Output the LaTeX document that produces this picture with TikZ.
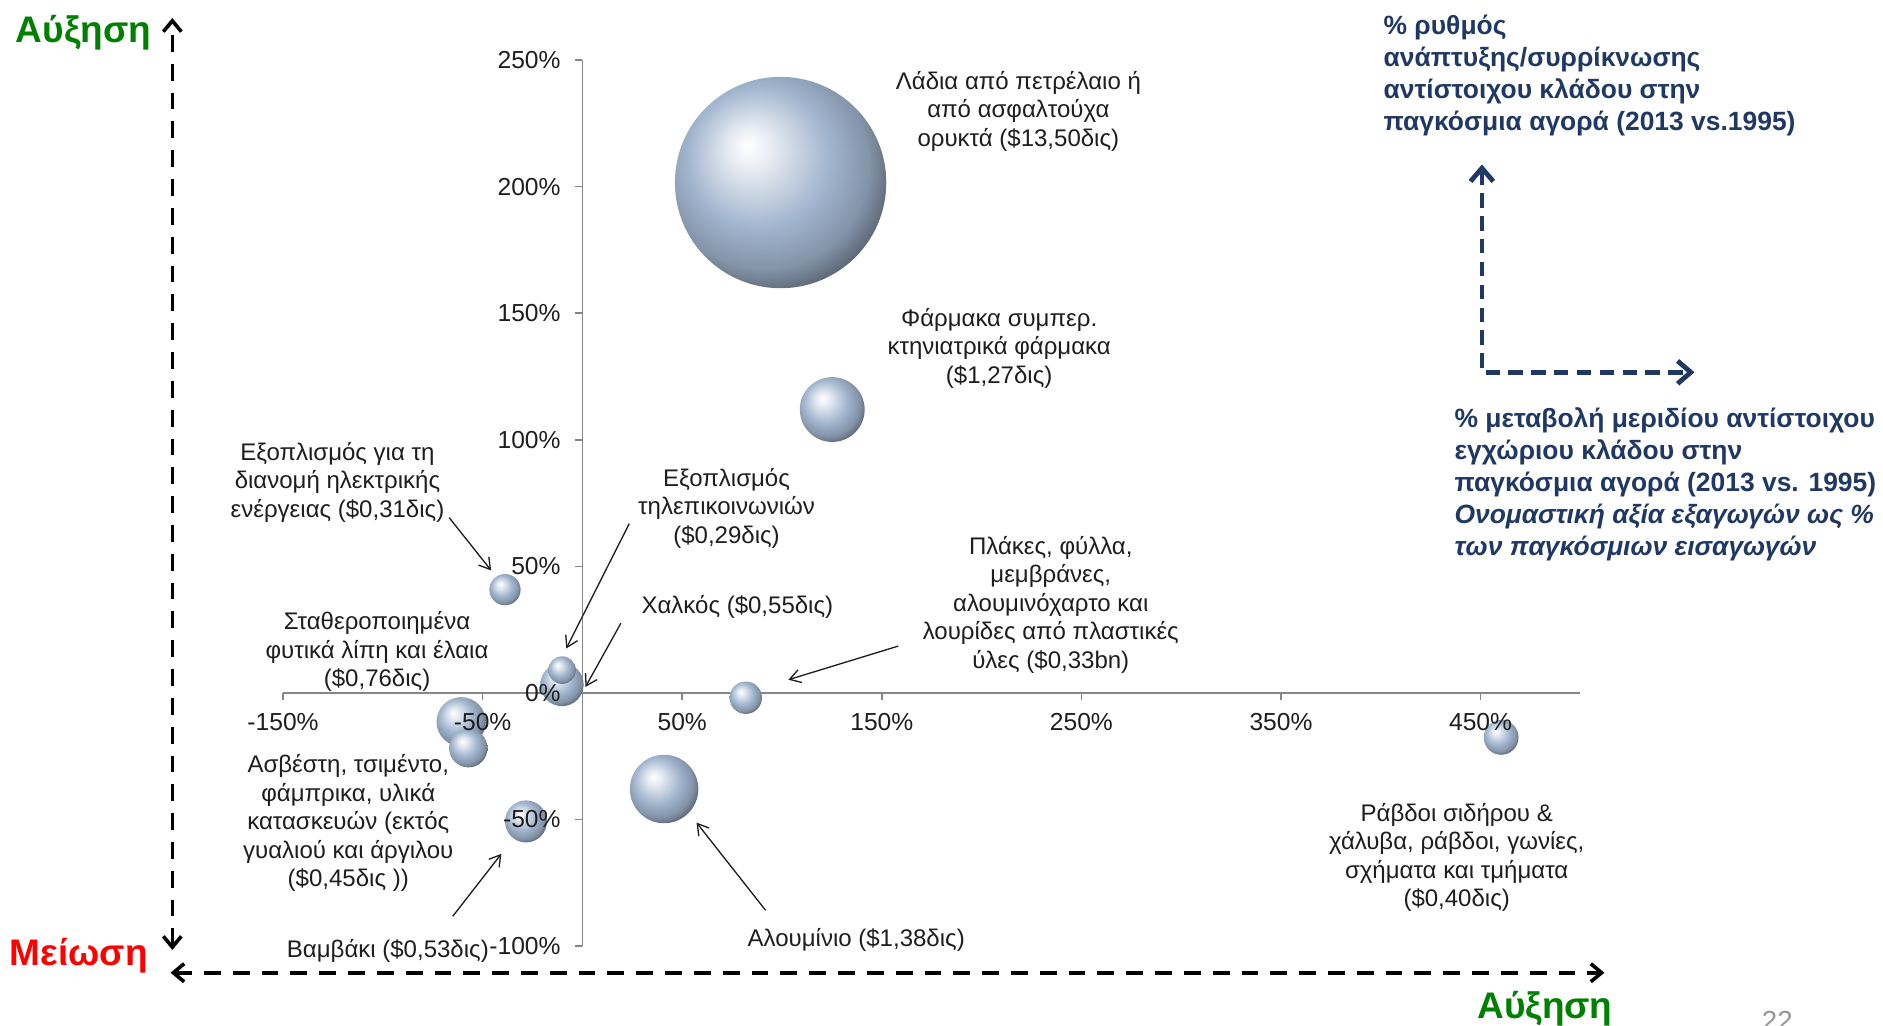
\documentclass[tikz,border=0pt]{standalone}
\usepackage{fontspec}
\setmainfont{Liberation Sans}
\usetikzlibrary{arrows.meta}
\definecolor{bubc}{RGB}{160,180,205}
\definecolor{navy}{RGB}{31,56,100}
\definecolor{axg}{RGB}{134,134,134}
\definecolor{lbl}{RGB}{30,30,30}
\definecolor{grn}{RGB}{0,128,0}
\definecolor{pgnum}{RGB}{150,150,150}
\pgfdeclareradialshading{mysphere}{\pgfqpoint{-8bp}{9bp}}{%
 color(0bp)=(white);
 color(5bp)=(bubc!25!white);
 color(17bp)=(bubc);
 color(25bp)=(bubc!82!black);
 color(33bp)=(bubc!42!black);
 color(50bp)=(bubc!42!black)}
\tikzset{
 lab/.style={text=lbl, font=\fontsize{20}{23.7}\selectfont, align=center, inner sep=0},
 ticklab/.style={text=lbl, font=\fontsize{20.5}{24}\selectfont, inner sep=0},
 axisline/.style={draw=axg, line width=1.3},
 bub/.style={circle, inner sep=0, shading=mysphere, draw=none},
 ann/.style={draw=lbl, line width=1.1, -{Straight Barb[length=9pt,width=11pt]}},
 bigarr/.style={line width=3, dash pattern=on 14pt off 10pt,
   {Straight Barb[length=9pt,width=15pt]}-{Straight Barb[length=9pt,width=15pt]}},
 navyarr/.style={draw=navy, line width=4, dash pattern=on 12pt off 7pt, line join=miter,
   {Straight Barb[length=11pt,width=19pt]}-{Straight Barb[length=11pt,width=19pt]}},
 bigword/.style={font=\fontsize{30.8}{35}\selectfont\bfseries, inner sep=0, anchor=base west},
 navytxt/.style={text=navy, font=\fontsize{22}{26.7}\selectfont\bfseries, align=left, inner sep=0, anchor=west}
}
\begin{document}
\begin{tikzpicture}[x=1pt,y=-1pt]
\useasboundingbox (0,0) rectangle (1568,854);
\fill[white] (0,0) rectangle (1568,854);

% plot axes
\draw[axisline] (485,50) -- (485,788);
\draw[axisline] (235.7,577) -- (1316,577);
\foreach \yy in {50,155.4,260.8,366.2,471.6,577,682.4,787.8}
  \draw[axisline] (479,\yy) -- (485,\yy);
\foreach \xx in {235.7,401.9,568.1,734.3,900.5,1066.7,1232.9}
  \draw[axisline] (\xx,577) -- (\xx,583);

% bubbles
\node[bub, minimum size=176] (oil) at (650,152) {};
\node[bub, minimum size=54] (pharma) at (693,341) {};
\node[bub, minimum size=26] (elec) at (420.5,491) {};
\node[bub, minimum size=36] (copper) at (468,570) {};
\node[bub, minimum size=23] (telecom) at (468,558) {};
\node[bub, minimum size=27] (plastic) at (621,581) {};
\node[bub, minimum size=41] (veg) at (384,601) {};
\node[bub, minimum size=32] (cement) at (390,623) {};
\node[bub, minimum size=35] (cotton) at (438,684) {};
\node[bub, minimum size=57] (alum) at (553,657) {};
\node[bub, minimum size=29] (steel) at (1250,614) {};

% tick labels
\node[ticklab, anchor=east] (y250) at (467,50) {250\%};
\node[ticklab, anchor=east] (y200) at (467,155.4) {200\%};
\node[ticklab, anchor=east] (y150) at (467,260.8) {150\%};
\node[ticklab, anchor=east] (y100) at (467,366.2) {100\%};
\node[ticklab, anchor=east] (y50) at (467,471.6) {50\%};
\node[ticklab, anchor=east] (y0) at (467,577) {0\%};
\node[ticklab, anchor=east] (ym50) at (467,682.4) {-50\%};
\node[ticklab, anchor=east] (ym100) at (467,787.8) {-100\%};
\node[ticklab] (xm150) at (235.7,601) {-150\%};
\node[ticklab] (xm50) at (401.9,601) {-50\%};
\node[ticklab] (x50) at (568.1,601) {50\%};
\node[ticklab] (x150) at (734.3,601) {150\%};
\node[ticklab] (x250) at (900.5,601) {250\%};
\node[ticklab] (x350) at (1066.7,601) {350\%};
\node[ticklab] (x450) at (1232.9,601) {450\%};

% data labels
\node[lab] (loil) at (848,92.5) {Λάδια από πετρέλαιο ή\\από ασφαλτούχα\\ορυκτά (\$13,50δις)};
\node[lab] (lpharma) at (832,290) {Φάρμακα συμπερ.\\κτηνιατρικά φάρμακα\\(\$1,27δις)};
\node[lab] (lelec) at (281,401.5) {Εξοπλισμός για τη\\διανομή ηλεκτρικής\\ενέργειας (\$0,31δις)};
\node[lab] (ltele) at (605,423) {Εξοπλισμός\\τηλεπικοινωνιών\\(\$0,29δις)};
\node[lab] (lcopper) at (614,505) {Χαλκός (\$0,55δις)};
\node[lab] (lveg) at (314,542.5) {Σταθεροποιημένα\\φυτικά λίπη και έλαια\\(\$0,76δις)};
\node[lab] (lplastic) at (875,503.5) {Πλάκες, φύλλα,\\μεμβράνες,\\αλουμινόχαρτο και\\λουρίδες από πλαστικές\\ύλες (\$0,33bn)};
\node[lab] (lcement) at (290,685.5) {Ασβέστη, τσιμέντο,\\φάμπρικα, υλικά\\κατασκευών (εκτός\\γυαλιού και άργιλου\\(\$0,45δις ))};
\node[lab] (lcotton) at (323,792) {Βαμβάκι (\$0,53δις)};
\node[lab] (lalum) at (713,783) {Αλουμίνιο (\$1,38δις)};
\node[lab] (lsteel) at (1213,714) {Ράβδοι σιδήρου \&\\χάλυβα, ράβδοι, γωνίες,\\σχήματα και τμήματα\\(\$0,40δις)};

% annotation arrows
\coordinate (eS) at (374,431);   \coordinate (eE) at (409,475);
\coordinate (tS) at (524,436);   \coordinate (tE) at (471.5,540);
\coordinate (cS) at (517,519);   \coordinate (cE) at (487.5,572);
\coordinate (pS) at (748,538);   \coordinate (pE) at (656.5,566);
\coordinate (bS) at (377,763);   \coordinate (bE) at (417.5,711);
\coordinate (aS) at (637.5,758); \coordinate (aE) at (580,685);
\draw[ann] (eS) -- (eE);
\draw[ann] (tS) -- (tE);
\draw[ann] (cS) -- (cE);
\draw[ann] (pS) -- (pE);
\draw[ann] (bS) -- (bE);
\draw[ann] (aS) -- (aE);

% big dashed direction arrows
\coordinate (vTop) at (143.5,15);
\coordinate (vBot) at (143.5,791);
\coordinate (hLeft) at (142,810);
\coordinate (hRight) at (1336,810);
\draw[bigarr] (vBot) -- (vTop);
\draw[bigarr] (hLeft) -- (hRight);
\node[bigword, text=grn] (upw) at (13,35.5) {Αύξηση};
\node[bigword, text=red] (down) at (8,804) {Μείωση};
\node[bigword, text=grn] (rightw) at (1230,848) {Αύξηση};
\node[inner sep=0, anchor=base west, text=pgnum, font=\fontsize{23}{26}\selectfont] (pg) at (1467,858) {22};

% legend on the right
\node[navytxt] (ytitle) at (1152,63) {\% ρυθμός\\ανάπτυξης/συρρίκνωσης\\αντίστοιχου κλάδου στην\\παγκόσμια αγορά (2013 vs.1995)};
\coordinate (nTop) at (1234,137);
\coordinate (nCorner) at (1234,310);
\coordinate (nRight) at (1411,310);
\draw[navyarr] (nTop) -- (nCorner) -- (nRight);
\node[navytxt] (xtitle) at (1211,403.5) {\% μεταβολή μεριδίου αντίστοιχου\\εγχώριου κλάδου στην\\παγκόσμια αγορά (2013 vs. 1995)\\\itshape Ονομαστική αξία εξαγωγών ως \%\\\itshape των παγκόσμιων εισαγωγών};
\end{tikzpicture}
\end{document}
